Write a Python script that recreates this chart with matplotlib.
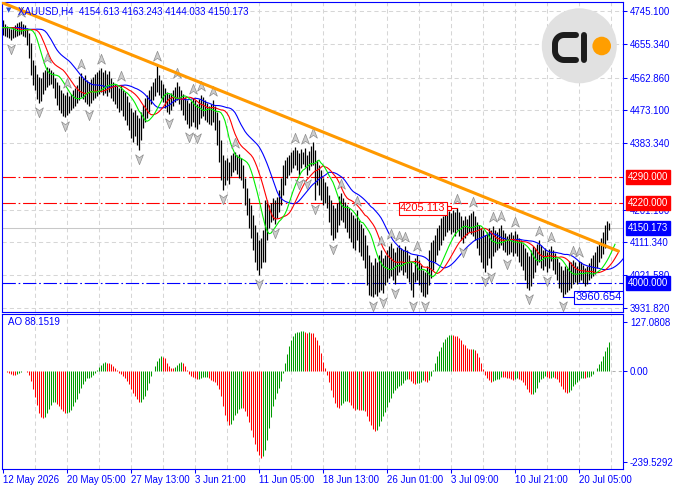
import numpy as np
import pandas as pd
import matplotlib
matplotlib.use('Agg')
from matplotlib import pyplot as plt
from matplotlib import transforms
from matplotlib.path import Path
from matplotlib.patches import Circle

plt.rcParams['font.family'] = ['Liberation Sans', 'DejaVu Sans']

symbol = 'XAUUSD,H4'
last_ohlc = [4154.613, 4163.243, 4144.033, 4150.173]
ao_now = 88.1519

# H4 bars (high / low per bar)
highs = [
    4720, 4710, 4704, 4699, 4696, 4701, 4707, 4712, 4715, 4718, 4710, 4707,
    4699, 4685, 4657, 4611, 4597,
    4573, 4564, 4562, 4578, 4584, 4592, 4589, 4584, 4578,
    4562, 4551, 4542, 4529, 4521, 4515, 4523, 4512, 4518, 4529, 4534, 4542,
    4567, 4575, 4562, 4570, 4556, 4551, 4559, 4564, 4573, 4578, 4584, 4589, 4578, 4584, 4573, 4581,
    4562, 4551, 4545, 4540, 4534, 4542, 4529, 4523, 4512, 4496, 4480, 4469, 4474, 4460, 4452, 4469,
    4488, 4507, 4515, 4529, 4540, 4551, 4562, 4597,
    4570, 4556, 4545, 4534, 4523, 4518, 4521, 4529, 4537, 4551, 4540,
    4529, 4518, 4510, 4501, 4493, 4499, 4507, 4501, 4490, 4504, 4515, 4510, 4501, 4493, 4485,
    4490, 4501, 4485, 4469, 4447, 4392, 4351, 4337, 4343, 4332,
    4351, 4356, 4359, 4351, 4354, 4343, 4323,
    4288, 4260, 4233, 4214, 4187, 4159, 4140, 4118,
    4124, 4145, 4228, 4228, 4214, 4219, 4233, 4228, 4236,
    4255, 4288, 4323, 4337, 4345, 4351,
    4359, 4365, 4373, 4365, 4356, 4367, 4359, 4370, 4351, 4362, 4376, 4386, 4365, 4337,
    4323, 4310, 4288, 4277, 4266, 4241, 4228, 4214, 4206, 4219, 4239, 4247, 4233,
    4222, 4214, 4206, 4195, 4187, 4178, 4200, 4173, 4162, 4151,
    4132, 4104, 4077, 4058, 4050, 4069, 4058, 4077, 4091, 4069,
    4077, 4091, 4102, 4110, 4096, 4085, 4099, 4104, 4096, 4091, 4102, 4091, 4077,
    4058, 4030, 4069, 4077, 4063, 4050, 4036, 4030, 4047, 4091,
    4113, 4118, 4132, 4151, 4159, 4178, 4184, 4189, 4195, 4197, 4192, 4200, 4195, 4205.113, 4195, 4184,
    4173, 4184, 4176, 4187, 4192, 4197, 4184,
    4167, 4159, 4151, 4145, 4132, 4140, 4151, 4145, 4156, 4145,
    4140, 4151, 4159, 4145, 4137, 4129, 4134, 4140, 4132, 4143,
    4134, 4124, 4118, 4107, 4096, 4085, 4074, 4091, 4102, 4096,
    4107, 4118, 4104, 4091, 4096, 4085, 4093, 4102, 4091, 4082,
    4069, 4058, 4047, 4036, 4047, 4041, 4061, 4058, 4063,
    4058, 4047, 4061, 4058, 4050, 4041, 4047, 4055, 4069, 4077, 4085, 4102, 4110, 4124, 4140, 4159,
    4170, 4163.243,
]
lows = [
    4679, 4677, 4674, 4671, 4666, 4671, 4674, 4677, 4679, 4682, 4677, 4674,
    4652, 4616, 4570, 4542, 4529,
    4504, 4493, 4499, 4518, 4529, 4537, 4542, 4545, 4534,
    4507, 4488, 4474, 4466, 4458, 4455, 4460, 4466, 4474, 4480, 4485, 4493,
    4501, 4510, 4504, 4496, 4490, 4485, 4493, 4501, 4507, 4512, 4518, 4523, 4515, 4521, 4512, 4523,
    4507, 4499, 4490, 4480, 4469, 4474, 4458, 4447, 4433, 4419, 4397, 4386, 4403, 4378, 4365, 4392,
    4425, 4441, 4452, 4469, 4490, 4501, 4512, 4523,
    4515, 4507, 4496, 4480, 4469, 4463, 4474, 4485, 4496, 4501, 4490,
    4474, 4460, 4447, 4436, 4425, 4430, 4441, 4427, 4422, 4436, 4452, 4458, 4447, 4441, 4436,
    4433, 4441, 4419, 4378, 4332, 4282, 4255, 4269, 4282, 4271,
    4293, 4304, 4310, 4299, 4288, 4282, 4260,
    4214, 4187, 4151, 4124, 4091, 4058, 4036, 4022,
    4041, 4058, 4058, 4118, 4151, 4167, 4173, 4162, 4178,
    4195, 4214, 4241, 4269, 4288, 4296,
    4304, 4315, 4323, 4310, 4296, 4315, 4326, 4318, 4296, 4310, 4321, 4323, 4228, 4269,
    4241, 4228, 4214, 4219, 4206, 4167, 4132, 4118, 4124, 4140, 4159, 4173, 4167,
    4151, 4140, 4124, 4113, 4096, 4091, 4118, 4085, 4074, 4063,
    4041, 3995, 3967, 3965, 3962, 3970, 3965, 3976, 3981, 3973,
    3995, 4003, 4014, 4020, 4009, 3998, 4022, 4030, 4036, 4022, 4030, 4014, 4003,
    3981, 3962, 4003, 4009, 3995, 3976, 3966, 3963, 3970, 3995,
    4014, 4036, 4058, 4077, 4091, 4104, 4118, 4129, 4140, 4145, 4134, 4140, 4129, 4145, 4129, 4118,
    4110, 4124, 4132, 4140, 4134, 4129, 4118,
    4096, 4077, 4058, 4041, 4030, 4050, 4069, 4041, 4074, 4085,
    4091, 4096, 4104, 4091, 4085, 4077, 4080, 4085, 4074, 4082,
    4074, 4058, 4047, 4036, 4009, 3987, 3981, 3992, 4014, 4030,
    4050, 4058, 4041, 4036, 4047, 4030, 4041, 4061, 4036, 4025,
    4009, 3987, 3976, 3960.654, 3970, 3976, 3981, 3987, 3998,
    4003, 3998, 4003, 4009, 4000, 3992, 3998, 4009, 4014, 4020, 4025, 4041, 4058, 4069, 4080, 4096,
    4118, 4144.033,
]

date_labels = ['12 May 2026', '20 May 05:00', '27 May 13:00', '3 Jun 21:00', '11 Jun 05:00',
               '18 Jun 13:00', '26 Jun 01:00', '3 Jul 09:00', '10 Jul 21:00', '20 Jul 05:00']
label_step = 32

price_ticks = [4745.100, 4655.340, 4562.860, 4473.100, 4383.340, 4201.100, 4111.340, 4021.580, 3931.820]
red_levels = [4290.0, 4220.0]
blue_levels = [4000.0]
trend_x = [0, 307.5]
trend_y = [4767.0, 4088.0]
ao_ticks = [127.0808, 0.0, -239.5292]
ao_tick_labels = ['127.0808', '0.00', '-239.5292']
range_start = 180  # first bar of the high/low marker range

highs = np.array(highs, dtype=float)
lows = np.array(lows, dtype=float)
n = len(highs)
idx = np.arange(n)

# indicators (history before the first bar is unknown: hold the first median)
pad = 40
median = (highs + lows) / 2
med = pd.Series(np.concatenate([np.full(pad, median[0]), median]))
ao_all = (med.rolling(5).mean() - med.rolling(34).mean()).to_numpy()
ao_vals = ao_all[pad:]
ao_rising = ao_all[pad:] > ao_all[pad - 1:-1]
ao_colors = np.where(ao_rising, '#009a00', '#ff0000')

W, H = 674, 488
fig = plt.figure(figsize=(W / 100, H / 100), dpi=100)


def px_rect(x0, y0, x1, y1):
    return [x0 / W, 1 - y1 / H, (x1 - x0) / W, (y1 - y0) / H]


ax = fig.add_axes(px_rect(2, 2, 623, 311.5))
ao_ax = fig.add_axes(px_rect(2, 314, 623, 469))

blue = '#0000ff'
grid_c = '#d6d6d6'
for a in (ax, ao_ax):
    a.set_xlim(-0.5, 310)
    for s in a.spines.values():
        s.set_color(blue)
        s.set_linewidth(0.8)
    for b in range(16, 310, 16):
        a.axvline(b, color=grid_c, lw=0.75, ls=(0, (4, 3)), zorder=0.5)

ax.set_ylim(3922.2, 4769.7)
for p in price_ticks:
    ax.axhline(p, color=grid_c, lw=0.75, ls=(0, (4, 3)), zorder=0.5)
ax.axhline(last_ohlc[3], color='#c8c8c8', lw=0.75, zorder=0.6)
for p in red_levels:
    ax.axhline(p, color='red', lw=0.8, ls=(0, (12, 2.5, 1.5, 2.5)), zorder=1)
for p in blue_levels:
    ax.axhline(p, color=blue, lw=0.8, ls=(0, (12, 2.5, 1.5, 2.5)), zorder=1)

ax.vlines(idx, lows, highs, color='black', lw=0.9, zorder=2)

# Alligator: jaw, teeth, lips
for period, shift, col in [(13, 8, '#0000ff'), (8, 5, '#ff0000'), (5, 3, '#00ee00')]:
    smma = med.ewm(alpha=1 / period, adjust=False).mean().to_numpy()
    ax.plot(np.arange(-pad, n) + shift, smma, color=col, lw=0.8, zorder=3)

# fractals
up_i = [i for i in range(2, n - 2) if highs[i] > highs[i - 2:i].max() and highs[i] > highs[i + 1:i + 3].max()]
dn_i = [i for i in range(2, n - 2) if lows[i] < lows[i - 2:i].min() and lows[i] < lows[i + 1:i + 3].min()]
up_arrow = Path([(0, 1), (0.75, -0.9), (0, -0.35), (-0.75, -0.9), (0, 1)],
                [Path.MOVETO, Path.LINETO, Path.LINETO, Path.LINETO, Path.CLOSEPOLY])
dn_arrow = Path([(0, -1), (0.75, 0.9), (0, 0.35), (-0.75, 0.9), (0, -1)],
                [Path.MOVETO, Path.LINETO, Path.LINETO, Path.LINETO, Path.CLOSEPOLY])
up_tr = transforms.offset_copy(ax.transData, fig=fig, y=6.5, units='points')
dn_tr = transforms.offset_copy(ax.transData, fig=fig, y=-6.5, units='points')
ax.plot(up_i, highs[up_i], ls='none', marker=up_arrow, ms=7.5, mfc='#cdcdcd', mec='#8c8c8c',
        mew=0.5, transform=up_tr, zorder=4)
ax.plot(dn_i, lows[dn_i], ls='none', marker=dn_arrow, ms=7.5, mfc='#cdcdcd', mec='#8c8c8c',
        mew=0.5, transform=dn_tr, zorder=4)

ax.plot(trend_x, trend_y, color='#ff9900', lw=2.2, zorder=5)

# high / low marks
hi_i = range_start + int(np.argmax(highs[range_start:]))
lo_i = range_start + int(np.argmin(lows[range_start:]))
ax.plot([hi_i - 4, hi_i], [highs[hi_i]] * 2, color='red', lw=0.8, zorder=6)
ax.plot([hi_i - 4], [highs[hi_i]], marker='s', ms=3.5, mfc='white', mec='red', mew=0.8, zorder=7)
ax.text(hi_i - 5.8, highs[hi_i], f'{highs[hi_i]:.3f}', ha='right', va='center', color='red',
        fontsize=8, zorder=7, bbox=dict(boxstyle='square,pad=0.12', fc='white', ec='red', lw=0.8))
ax.plot([lo_i, lo_i + 5.5], [lows[lo_i]] * 2, color=blue, lw=0.8, zorder=6)
ax.text(lo_i + 6.2, lows[lo_i], f'{lows[lo_i]:.3f}', ha='left', va='center', color=blue,
        fontsize=8, zorder=7, bbox=dict(boxstyle='square,pad=0.12', fc='white', ec=blue, lw=0.8))

# price axis
ax.yaxis.tick_right()
ax.set_yticks(price_ticks)
ax.set_yticklabels([f'{p:.3f}' for p in price_ticks])
ax.tick_params(axis='y', labelsize=7, colors=blue, length=3, width=0.75, pad=2)
ax.set_xticks([])
yt = ax.get_yaxis_transform()
for p, fc in [(red_levels[0], 'red'), (red_levels[1], 'red'), (last_ohlc[3], blue), (blue_levels[0], blue)]:
    ax.text(1.0075, p, f'{p:.3f}', transform=yt, ha='left', va='center', color='white', fontsize=7,
            clip_on=False, zorder=8, bbox=dict(boxstyle='square,pad=0.2', fc=fc, ec=fc))

# AO
ao_ax.vlines(idx, 0, ao_vals, colors=ao_colors, lw=0.75, zorder=2)
ao_ax.hlines(0, n + 0.5, 310, colors='#b0b0b0', lw=0.75, linestyles=(0, (3, 3)))
ao_ax.set_ylim(-257.9, 148.0)
ao_ax.yaxis.tick_right()
ao_ax.set_yticks(ao_ticks)
ao_ax.set_yticklabels(ao_tick_labels)
ao_ax.tick_params(axis='y', labelsize=7, colors=blue, length=3, width=0.75, pad=2)
ao_ax.set_xticks(range(0, n, label_step))
ao_ax.set_xticklabels(date_labels)
ao_ax.tick_params(axis='x', labelsize=7, colors=blue, length=3, width=0.75, pad=1)
for lab in ao_ax.get_xticklabels():
    lab.set_ha('left')
ao_ax.text(0.0097, 0.95, f'AO {ao_now:.4f}', transform=ao_ax.transAxes, ha='left', va='center',
           color=blue, fontsize=7)

# header
fig.text(18 / W, 1 - 11 / H, f'{symbol}  ' + ' '.join(f'{v:.3f}' for v in last_ohlc),
         color=blue, fontsize=7, va='center', ha='left')
fig.text(6 / W, 1 - 10.5 / H, '\u25bc', color='#2a4fd0', fontsize=5, va='center', ha='left',
         family='DejaVu Sans')

# logo
lg = fig.add_axes([0, 0, 1, 1])
lg.set_xlim(0, W)
lg.set_ylim(H, 0)
lg.axis('off')
lg.add_patch(Circle((579.3, 45.8), 37.5, fc='#e1e1e1', ec='none'))
arc_top = [(564 + 9 * np.cos(a), 44 - 9 * np.sin(a)) for a in np.linspace(np.pi / 2, np.pi, 10)]
arc_bot = [(564 + 9 * np.cos(a), 51 + 9 * np.sin(a)) for a in np.linspace(np.pi, np.pi / 2, 10)]
pts = [(576, 35)] + arc_top + arc_bot + [(576, 60)]
lg.plot([p[0] for p in pts], [p[1] for p in pts], color='#1c1c1c', lw=4.3,
        solid_capstyle='round', solid_joinstyle='round')
lg.plot([583.5, 583.5], [35, 60], color='#1c1c1c', lw=4.3, solid_capstyle='round')
lg.add_patch(Circle((601.7, 46.0), 9.3, fc='#ff9e00', ec='none'))

fig.savefig('out.png', dpi=100, facecolor='white')
